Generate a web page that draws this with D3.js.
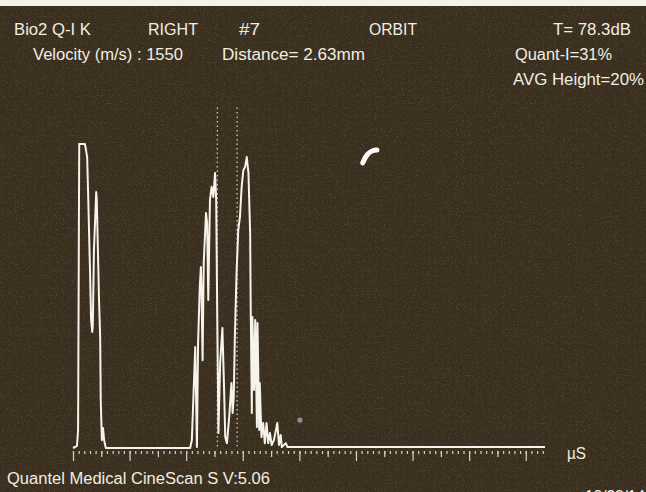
<!DOCTYPE html>
<html>
<head>
<meta charset="utf-8">
<script src="https://cdn.jsdelivr.net/npm/d3@7"></script>
<style>
    html, body { margin: 0; padding: 0; background: #3a2f1e; }
    svg { display: block; }
    text { font-family: "Liberation Sans", Arial, sans-serif; fill: #f1ede2; }
</style>
</head>
<body>
<div id="scanWrapper"></div>
<script>
// A-scan trace, x in µs (major tick = 1), amplitude in % of screen height
let firstEcho = [
    [0, 0], [0.07, 0.7], [0.09, 5.9], [0.11, 100], [0.21, 100], [0.23, 98],
    [0.25, 95.7], [0.27, 81.6], [0.30, 58.6], [0.32, 42.1], [0.34, 38.2],
    [0.35, 40.5], [0.37, 65.1], [0.41, 84.2], [0.42, 81.6], [0.46, 48.7],
    [0.48, 36.5], [0.49, 15.8], [0.51, 2.6], [0.53, 6.6], [0.55, 2.6], [0.58, 0]
];
let secondEcho = [
    [2.07, 0], [2.10, 2.6], [2.16, 33.2], [2.19, 0.3], [2.21, 34.5], [2.24, 53.0],
    [2.26, 59.5], [2.27, 52.0], [2.29, 28.9], [2.31, 60.9], [2.35, 77.3],
    [2.37, 74.0], [2.39, 48.7], [2.42, 81.6], [2.45, 85.9], [2.48, 82.6],
    [2.51, 90.5], [2.53, 81.6], [2.55, 41.1], [2.57, 4.9], [2.60, 28.0],
    [2.64, 39.5], [2.67, 19.1], [2.69, 3.6], [2.72, 1.6], [2.76, 10.2],
    [2.80, 21.4], [2.82, 11.5], [2.84, 16.8], [2.86, 36.5], [2.89, 57.6],
    [2.92, 71.7], [2.95, 76.0], [2.98, 85.9], [3.01, 91.4], [3.04, 92.4],
    [3.07, 95.7], [3.10, 90.5], [3.13, 70.7], [3.14, 46.4], [3.16, 11.5],
    [3.17, 43.1], [3.20, 19.1], [3.22, 42.1], [3.25, 6.9], [3.26, 41.1],
    [3.29, 5.9], [3.30, 21.4], [3.33, 3.6], [3.36, 8.2], [3.39, 1.6],
    [3.42, 8.2], [3.45, 1.6], [3.48, 4.9], [3.51, 1.0], [3.55, 2.6],
    [3.61, 8.2], [3.64, 1.0], [3.67, 4.3], [3.69, 0.3], [3.76, 1.6], [3.79, 0.3]
];
let tail = [[8.34, 0.3]];

// measuring gates (µs) and their top (amplitude)
let gates = [2.55, 2.90];
let gateTop = 112;

// odd marks on the screen
let cursorMark = [[5.12, 93.8], [5.19, 96.7], [5.30, 98.0], [5.37, 98.0]];
let smudge = [[4.01, 9.2]];

let headerRow1 = ["Bio2 Q-I K", "RIGHT", "#7", "ORBIT", "T= 78.3dB"];
let headerRow2 = ["Velocity (m/s) : 1550", "Distance=  2.63mm", "Quant-I=31%"];
let headerRow3 = ["AVG Height=20%"];
let footer = "Quantel Medical CineScan S V:5.06";
let unitLabel = "µS";
let dateLabel = "12/23/14";

let majorTicks = d3.range(0, 9, 1);
let halfTicks = d3.range(0.5, 8.5, 1);
let minorTicks = d3.range(0, 84).map(i => i / 10);

function buildScan() {
    let width = 646, height = 492;

    let svg = d3.select('#scanWrapper').append('svg')
        .attr('width', width)
        .attr('height', height);

    // screen grain
    let defs = svg.append('defs');
    let noise = defs.append('filter').attr('id', 'grain')
        .attr('x', 0).attr('y', 0).attr('width', '100%').attr('height', '100%');
    noise.append('feTurbulence')
        .attr('type', 'fractalNoise')
        .attr('baseFrequency', 0.85)
        .attr('numOctaves', 2)
        .attr('seed', 3);
    noise.append('feColorMatrix')
        .attr('values', '0 0 0 0 0.80  0 0 0 0 0.70  0 0 0 0 0.50  0 0 0 1.6 -0.85');

    svg.append('rect').attr('width', width).attr('height', height).attr('fill', '#3a2f1e');
    svg.append('rect').attr('width', width).attr('height', height)
        .attr('filter', 'url(#grain)').attr('opacity', 0.3);
    svg.append('rect').attr('width', width).attr('height', 6).attr('fill', '#f4f1ea');

    let x = d3.scaleLinear().domain([0, 8.34]).range([73, 545]);
    let y = d3.scaleLinear().domain([0, 100]).range([448, 144]);

    // tick rows below the baseline
    let axisY = 451;
    let addTicks = (values, size, cls) => {
        let g = svg.append('g')
            .attr('class', cls)
            .attr('transform', `translate(0, ${axisY})`)
            .call(d3.axisBottom(x).tickValues(values).tickSize(size).tickFormat(''));
        g.select('.domain').remove();
        g.selectAll('.tick line').attr('stroke', '#d9d3c4').attr('stroke-width', 1.2);
    };
    addTicks(minorTicks, 3, 'minor');
    addTicks(halfTicks, 6, 'half');
    addTicks(majorTicks, 10, 'major');

    // gates
    svg.append('g').selectAll('line')
        .data(gates)
        .join('line')
        .attr('x1', d => x(d)).attr('x2', d => x(d))
        .attr('y1', y(gateTop)).attr('y2', y(0))
        .attr('stroke', '#d8d0bf')
        .attr('stroke-width', 1.2)
        .attr('stroke-dasharray', '1.5 3');

    // trace
    let trace = firstEcho.concat(secondEcho, tail);
    let line = d3.line().x(d => x(d[0])).y(d => y(d[1]));
    svg.append('path')
        .datum(trace)
        .attr('d', line)
        .attr('fill', 'none')
        .attr('stroke', '#f6f3ec')
        .attr('stroke-width', 2)
        .attr('stroke-linejoin', 'round');

    svg.append('path')
        .datum(cursorMark)
        .attr('d', d3.line().x(d => x(d[0])).y(d => y(d[1])).curve(d3.curveBasis))
        .attr('fill', 'none')
        .attr('stroke', '#fbfaf6')
        .attr('stroke-width', 5)
        .attr('stroke-linecap', 'round');

    svg.selectAll('.smudge')
        .data(smudge)
        .join('circle')
        .attr('class', 'smudge')
        .attr('cx', d => x(d[0])).attr('cy', d => y(d[1]))
        .attr('r', 2.6)
        .attr('fill', '#8c8d93');

    // header texts
    let addText = (str, px, py, len) => {
        svg.append('text')
            .attr('x', px).attr('y', py)
            .attr('font-size', 16)
            .attr('textLength', len)
            .attr('lengthAdjust', 'spacingAndGlyphs')
            .text(str);
    };
    let row1X = [14, 148, 239, 369, 553], row1W = [77, 50, 21, 48, 78];
    headerRow1.forEach((t, i) => addText(t, row1X[i], 35, row1W[i]));
    let row2X = [33, 222, 515], row2W = [150, 143, 97];
    headerRow2.forEach((t, i) => addText(t, row2X[i], 60, row2W[i]));
    addText(headerRow3[0], 513, 85, 131);

    addText(footer, 7, 484, 263);
    addText(unitLabel, 567, 459, 19);
    // date sits mostly below the screen edge, as on the photo
    addText(dateLabel, 585, 502, 60);
}

buildScan();
</script>
</body>
</html>
